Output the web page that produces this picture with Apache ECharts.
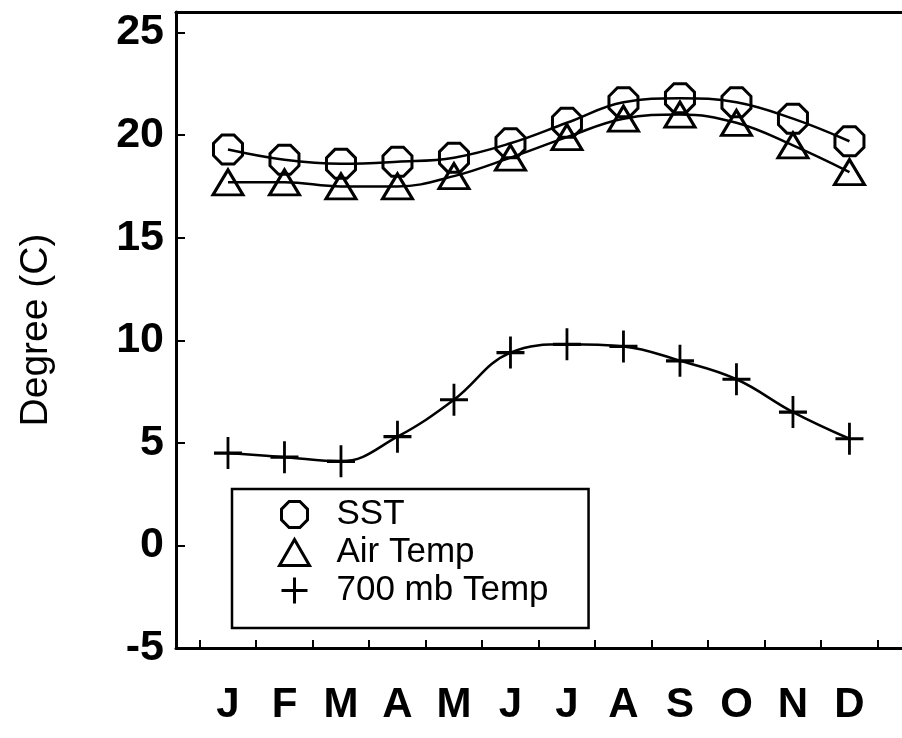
<!DOCTYPE html>
<html lang="en">
<head>
    <meta charset="UTF-8">
    <title>Degree (C)</title>
    <script src="https://cdn.jsdelivr.net/npm/echarts@6/dist/echarts.min.js"></script>
    <style>
        html, body { margin: 0; padding: 0; background: #fff; }
    </style>
</head>
<body>
    <div id="main" style="width: 902px; height: 738px;"></div>
    <script type="text/javascript">
        // months (x = 1..12) and their axis letters
        var months = [1, 2, 3, 4, 5, 6, 7, 8, 9, 10, 11, 12];
        var monthLabels = ['J', 'F', 'M', 'A', 'M', 'J', 'J', 'A', 'S', 'O', 'N', 'D'];
        var yTicks = [-5, 0, 5, 10, 15, 20, 25];

        // values
        var sst = [19.3, 18.8, 18.6, 18.7, 18.9, 19.6, 20.6, 21.6, 21.8, 21.6, 20.8, 19.7];
        var airTemp = [17.7, 17.7, 17.5, 17.5, 18.0, 18.9, 19.9, 20.8, 21.0, 20.6, 19.5, 18.2];
        var temp700 = [4.5, 4.3, 4.1, 5.3, 7.1, 9.4, 9.8, 9.7, 9.0, 8.1, 6.5, 5.2];

        var octagon = 'path://M-0.414,-1 L0.414,-1 L1,-0.414 L1,0.414 L0.414,1 L-0.414,1 L-1,0.414 L-1,-0.414 Z';
        var plus = 'path://M0,-1 L0,1 M-1,0 L1,0';

        function pairs(vals) {
            return months.map(function (m, i) { return [m, vals[i]]; });
        }

        var boundaries = months.map(function (m) { return m - 0.5; }).concat([12.5]);
        var tickFont = '"Liberation Sans", Arial, sans-serif';

        var myChart = echarts.init(document.getElementById('main'));
        var option = {
            animation: false,
            backgroundColor: '#fff',
            grid: { left: 176, top: 12, bottom: 90, right: 0 },
            legend: {
                orient: 'vertical',
                left: 232, top: 489,
                padding: [8, 40, 20, 46],
                backgroundColor: '#fff',
                borderColor: '#000', borderWidth: 2.5,
                itemWidth: 30, itemHeight: 26, itemGap: 3,
                itemStyle: { color: 'rgba(0,0,0,0)', borderColor: '#000', borderWidth: 3 },
                textStyle: {
                    fontFamily: tickFont,
                    fontSize: 35, color: '#000',
                    padding: [0, 0, 0, 22]
                },
                data: [
                    { name: 'SST', icon: octagon },
                    { name: 'Air Temp', icon: 'triangle' },
                    { name: '700 mb Temp', icon: plus }
                ]
            },
            xAxis: [
                {
                    type: 'value',
                    min: 0.08, max: 12.93,
                    axisLine: { show: true, onZero: false, lineStyle: { color: '#000', width: 3 } },
                    axisTick: { show: true, inside: true, length: 8, customValues: boundaries, lineStyle: { color: '#000', width: 2 } },
                    splitLine: { show: false },
                    axisLabel: {
                        customValues: months,
                        formatter: function (v) { return monthLabels[Math.round(v) - 1] || ''; },
                        margin: 36,
                        fontFamily: tickFont, fontWeight: 'bold', fontSize: 42, color: '#000'
                    }
                },
                {
                    // top frame line only
                    type: 'value', position: 'top',
                    min: 0.08, max: 12.93,
                    axisLine: { show: true, onZero: false, lineStyle: { color: '#000', width: 3 } },
                    axisTick: { show: false },
                    axisLabel: { show: false },
                    splitLine: { show: false }
                }
            ],
            yAxis: {
                type: 'value',
                min: -5, max: 26,
                name: 'Degree (C)',
                nameLocation: 'middle',
                nameGap: 120,
                nameTextStyle: { fontFamily: tickFont, fontSize: 39, color: '#000' },
                axisLine: { show: true, lineStyle: { color: '#000', width: 3 } },
                axisTick: { show: true, inside: true, length: 9, customValues: yTicks, lineStyle: { color: '#000', width: 2 } },
                splitLine: { show: false },
                axisLabel: {
                    customValues: yTicks,
                    margin: 12,
                    fontFamily: tickFont, fontWeight: 'bold', fontSize: 43, color: '#000'
                }
            },
            series: [
                {
                    name: 'SST', type: 'line', smooth: 0.4,
                    data: pairs(sst),
                    symbol: octagon, symbolSize: [29, 29], showAllSymbol: true,
                    itemStyle: { color: 'rgba(0,0,0,0)', borderColor: '#000', borderWidth: 3 },
                    lineStyle: { color: '#000', width: 2.5 }
                },
                {
                    name: 'Air Temp', type: 'line', smooth: 0.4,
                    data: pairs(airTemp),
                    symbol: 'triangle', symbolSize: [30, 25], showAllSymbol: true,
                    itemStyle: { color: 'rgba(0,0,0,0)', borderColor: '#000', borderWidth: 3 },
                    lineStyle: { color: '#000', width: 2.5 }
                },
                {
                    name: '700 mb Temp', type: 'line', smooth: 0.4,
                    data: pairs(temp700),
                    symbol: plus, symbolSize: [28, 32], showAllSymbol: true,
                    itemStyle: { color: 'rgba(0,0,0,0)', borderColor: '#000', borderWidth: 3 },
                    lineStyle: { color: '#000', width: 2.5 }
                }
            ]
        };
        myChart.setOption(option);
    </script>
</body>
</html>
